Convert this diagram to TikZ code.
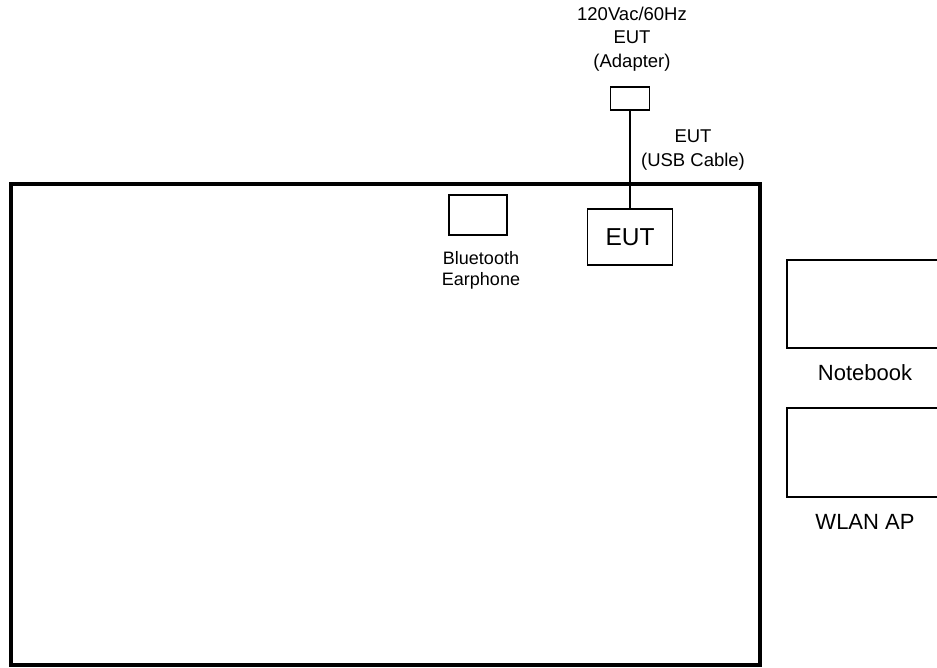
\documentclass[tikz,border=0pt]{standalone}
\usepackage{fontspec}
\setmainfont{Liberation Sans}
\begin{document}
\begin{tikzpicture}[x=1pt,y=-1pt,
  lbl/.style={inner sep=0pt,align=center,font=\fontsize{18.5}{23.5}\selectfont},
  box/.style={draw,line width=1.8pt,inner sep=0pt},
  big/.style={draw,line width=3.5pt}]
\useasboundingbox (0,0) rectangle (937,668);
% room
\draw[big] (11,184) rectangle (760,665);
% adapter
\node[box,minimum width=39pt,minimum height=23pt] (adapter) at (630,98.5) {};
\node[lbl] (adlbl) at (632,39) {120Vac/60Hz\\EUT\\(Adapter)};
% EUT
\node[box,minimum width=85pt,minimum height=56pt,font=\fontsize{24.5}{28}\selectfont] (eut) at (630,237) {EUT};
\draw[line width=1.8pt] (adapter.south) -- (eut.north);
\node[lbl] (cable) at (693,150) {EUT\\(USB Cable)};
% bluetooth
\node[box,minimum width=58pt,minimum height=40pt] (bt) at (478,215) {};
\node[lbl,font=\fontsize{18}{21}\selectfont] (btlbl) at (481,270) {Bluetooth\\Earphone};
% notebook
\draw[line width=1.8pt] (945,260) -- (787,260) -- (787,348) -- (945,348);
\coordinate (nb) at (787,260);
\node[lbl,font=\fontsize{22}{24}\selectfont] (nblbl) at (865,373) {Notebook};
% WLAN AP
\draw[line width=1.8pt] (945,408) -- (787,408) -- (787,497) -- (945,497);
\coordinate (ap) at (787,408);
\node[lbl,font=\fontsize{22}{24}\selectfont] (aplbl) at (865,522) {WLAN AP};
\end{tikzpicture}
\end{document}
